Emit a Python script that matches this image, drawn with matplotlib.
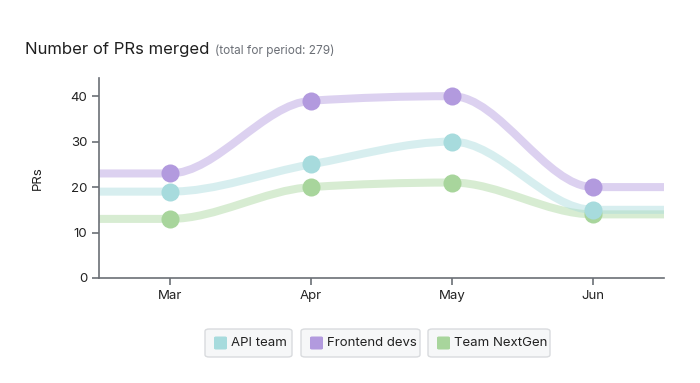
import numpy as np
import matplotlib
matplotlib.use("Agg")
import matplotlib.pyplot as plt
from matplotlib.path import Path
from matplotlib.patches import PathPatch, FancyBboxPatch

plt.rcParams["font.family"] = ["Inter", "DejaVu Sans"]

MONTHS = ["Mar", "Apr", "May", "Jun"]
API_TEAM = [19, 25, 30, 15]
FRONTEND_DEVS = [23, 39, 40, 20]
TEAM_NEXTGEN = [13, 20, 21, 14]
SERIES = ["API team", "Frontend devs", "Team NextGen"]
COLORS = {"API team": "#a7dbdd", "Frontend devs": "#b29ade", "Team NextGen": "#a8d59c"}
VALUES = {"API team": API_TEAM, "Frontend devs": FRONTEND_DEVS, "Team NextGen": TEAM_NEXTGEN}
TOTAL = sum(API_TEAM) + sum(FRONTEND_DEVS) + sum(TEAM_NEXTGEN)

X_LO, X_HI = -0.5, 3.5


def monotone_path(xs, ys):
    """Bezier path like d3.curveMonotoneX."""
    xs = np.asarray(xs, float); ys = np.asarray(ys, float)
    n = len(xs)
    h = np.diff(xs)
    s = np.diff(ys) / h
    t = np.zeros(n)
    for i in range(1, n - 1):
        p = (s[i - 1] * h[i] + s[i] * h[i - 1]) / (h[i - 1] + h[i])
        t[i] = (np.sign(s[i - 1]) + np.sign(s[i])) * min(abs(s[i - 1]), abs(s[i]), 0.5 * abs(p))
    t[0] = (3 * s[0] - t[1]) / 2
    t[-1] = (3 * s[-1] - t[-2]) / 2
    verts = [(xs[0], ys[0])]
    codes = [Path.MOVETO]
    for i in range(n - 1):
        dx = h[i] / 3
        verts += [(xs[i] + dx, ys[i] + dx * t[i]),
                  (xs[i + 1] - dx, ys[i + 1] - dx * t[i + 1]),
                  (xs[i + 1], ys[i + 1])]
        codes += [Path.CURVE4] * 3
    return Path(verts, codes)


fig = plt.figure(figsize=(7, 3.83), dpi=100)
ax = fig.add_axes([99 / 700, 1 - 278 / 383, (664 - 99) / 700, 200 / 383])

x = np.arange(len(MONTHS))
for name in SERIES[::-1]:
    vals = VALUES[name]
    xs = [X_LO] + list(x) + [X_HI]
    ys = [vals[0]] + list(vals) + [vals[-1]]
    ax.add_patch(PathPatch(monotone_path(xs, ys), facecolor="none",
                           edgecolor=COLORS[name], lw=5.8, alpha=0.45,
                           capstyle="butt", zorder=2))
for name in SERIES[::-1]:
    ax.plot(x, VALUES[name], "o", ms=13, color=COLORS[name], mec="none", zorder=3)

ax.set_xlim(X_LO, X_HI)
ax.set_ylim(0, 44)
ax.set_xticks(x)
ax.set_xticklabels(MONTHS)
ax.set_yticks([0, 10, 20, 30, 40])
for sp in ("top", "right"):
    ax.spines[sp].set_visible(False)
for sp in ("left", "bottom"):
    ax.spines[sp].set_color("#6b6f76")
    ax.spines[sp].set_linewidth(1.2)
ax.tick_params(colors="#6b6f76", labelcolor="#222222", labelsize=9.5, length=5, width=1.2)
ax.set_ylabel("PRs", fontsize=9.5, color="#222222", labelpad=19)

fig.text(25 / 700, 1 - 54 / 383, "Number of PRs merged", fontsize=12, color="#1f1f1f")
fig.text(215 / 700, 1 - 54 / 383, f"(total for period: {TOTAL})", fontsize=8.5, color="#6b6f76")

# legend chips
boxes = [(205, 292), (301, 420), (428, 550)]
for (x0, x1), name in zip(boxes, SERIES):
    fig.patches.append(FancyBboxPatch(
        (x0 / 700, 1 - 357 / 383), (x1 - x0) / 700, 28 / 383,
        boxstyle="round,pad=0,rounding_size=0.006", transform=fig.transFigure,
        facecolor="#f6f7f8", edgecolor="#d9dbde", lw=1.0))
    fig.patches.append(FancyBboxPatch(
        ((x0 + 9) / 700, 1 - 349.5 / 383), 13 / 700, 13 / 383,
        boxstyle="round,pad=0,rounding_size=0.003", transform=fig.transFigure,
        facecolor=COLORS[name], edgecolor="none"))
    fig.text((x0 + 26) / 700, 1 - 343 / 383, name, fontsize=9.5, color="#222222",
             va="center")

fig.savefig("out.png", dpi=100)
